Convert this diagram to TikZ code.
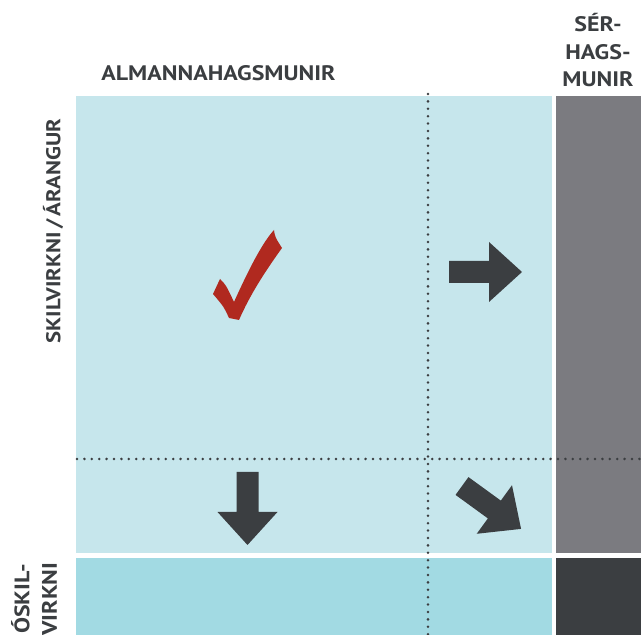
\documentclass[tikz,border=0pt]{standalone}
\usepackage{fontspec}
\setmainfont{PT Sans}[FakeStretch=1.14]
\usetikzlibrary{positioning}
\usetikzlibrary{calc}

\definecolor{lightblue}{HTML}{C6E6EC}
\definecolor{stripblue}{HTML}{A2DAE3}
\definecolor{sidegray}{HTML}{7B7B80}
\definecolor{darkgray}{HTML}{3B3E41}
\definecolor{checkred}{HTML}{B0291F}

\begin{document}
\begin{tikzpicture}[x=1pt, y=1pt,
        label/.style={font=\bfseries\fontsize{21}{27.5}\selectfont, text=darkgray, inner sep=0pt, align=center},
        dotline/.style={darkgray, line width=2.8pt, line cap=round, dash pattern=on 0pt off 7.4pt},
        fatarrow/.pic={
            \fill[darkgray] (0,-11) -- (40,-11) -- (40,-30) -- (73,0) -- (40,30) -- (40,11) -- (0,11) -- cycle;
        }]
    \useasboundingbox (0,0) rectangle (641,635);

    % fields
    \fill[lightblue] (76,82) rectangle (552,539);
    \fill[stripblue] (76,0) rectangle (552,77);
    \fill[sidegray] (556,82) rectangle (641,539);
    \fill[darkgray] (556,0) rectangle (641,77);

    % corner points of the dotted lines
    \coordinate (vtop) at (428,541);
    \coordinate (vbot) at (428,0);
    \coordinate (hleft) at (77,176);
    \coordinate (hright) at (641,176);
    \draw[dotline] (vtop) -- (vbot);
    \draw[dotline] (hleft) -- (hright);

    % headings
    \node[label] (almenn) at (218.5,562) {ALMANNAHAGSMUNIR};
    \node[label] (ser) at (598,585) {SÉR-\\HAGS-\\MUNIR};
    \node[label, font=\bfseries\fontsize{20}{27.5}\selectfont, rotate=90] (skil) at (53,404) {SKILVIRKNI\,/\,ÁRANGUR};
    \node[label, rotate=90] (oskil) at (34,36) {ÓSKIL-\\VIRKNI};

    % tick
    \fill[checkred] (213,341) -- (220,356) .. controls (226,350) .. (234,333)
        .. controls (248,364) and (262,392) .. (274,405)
        .. controls (275,398) .. (282,387)
        .. controls (264,362) and (250,340) .. (239,315)
        -- (229,317) .. controls (224,328) .. cycle;

    % arrows
    \pic at (449,363) {fatarrow};
    \pic[rotate=-90] at (247.5,163) {fatarrow};
    \pic[rotate=-36] at (462,149) {fatarrow};
\end{tikzpicture}
\end{document}
